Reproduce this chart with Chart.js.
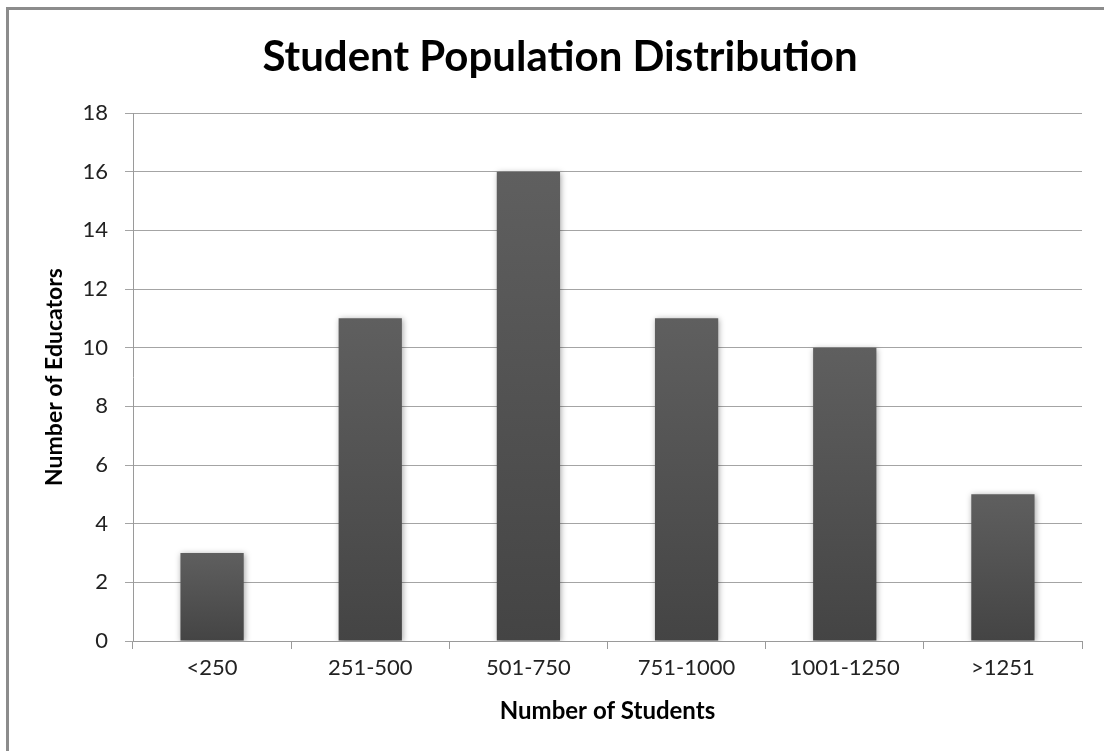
<!DOCTYPE html>
<html>
<head>
<meta charset="utf-8">
<script src="https://cdn.jsdelivr.net/npm/chart.js@4.4.1/dist/chart.umd.min.js"></script>
<style>
  html, body { margin: 0; padding: 0; background: #ffffff; }
  #wrap { width: 1104px; height: 751px; position: relative; }
</style>
</head>
<body>
<div id="wrap"><canvas id="c" width="1104" height="751"></canvas></div>
<script>
// Student counts grouped into school-size ranges
const categories = ['<250', '251-500', '501-750', '751-1000', '1001-1250', '>1251'];
const educatorCounts = [3, 11, 16, 11, 10, 5];
const yTicks = [0, 2, 4, 6, 8, 10, 12, 14, 16, 18];
const chartTitle = 'Student Population Distribution';

const FONT = 'Lato, "Open Sans", sans-serif';

// Each bar gets its own vertical gradient, lighter at the top
function barGradient(ctx) {
  const chart = ctx.chart;
  const area = chart.chartArea;
  if (!area || ctx.type !== 'data') return '#555555';
  const y = chart.scales.y;
  const top = y.getPixelForValue(ctx.raw);
  const bottom = y.getPixelForValue(0);
  const g = chart.ctx.createLinearGradient(0, top, 0, bottom);
  g.addColorStop(0, '#5f5f5f');
  g.addColorStop(1, '#444444');
  return g;
}

// Outer frame (top and left edges; the other sides run off the canvas)
const framePlugin = {
  id: 'frame',
  beforeDraw(chart) {
    const c = chart.ctx;
    c.save();
    c.strokeStyle = '#8c8c8c';
    c.lineWidth = 3;
    c.beginPath();
    c.moveTo(7.5, chart.height + 5);
    c.lineTo(7.5, 8.5);
    c.lineTo(chart.width + 5, 8.5);
    c.stroke();
    c.restore();
  }
};

// Title centred on the full frame, which is wider than the canvas
const titlePlugin = {
  id: 'frameTitle',
  afterDraw(chart) {
    const c = chart.ctx;
    c.save();
    c.fillStyle = '#000000';
    c.font = 'bold 42px ' + FONT;
    c.textAlign = 'center';
    c.textBaseline = 'alphabetic';
    c.fillText(chartTitle, 560, 71);
    c.restore();
  }
};

// Soft drop shadow under the bars
const shadowPlugin = {
  id: 'barShadow',
  beforeDatasetsDraw(chart) {
    const c = chart.ctx;
    c.save();
    c.shadowColor = 'rgba(0,0,0,0.35)';
    c.shadowBlur = 6;
    c.shadowOffsetX = 1;
    c.shadowOffsetY = 1;
  },
  afterDatasetsDraw(chart) {
    chart.ctx.restore();
  }
};

new Chart(document.getElementById('c'), {
  type: 'bar',
  data: {
    labels: categories,
    datasets: [{
      data: educatorCounts,
      backgroundColor: barGradient,
      borderWidth: 0,
      barPercentage: 0.4,
      categoryPercentage: 1.0
    }]
  },
  options: {
    responsive: false,
    animation: false,
    devicePixelRatio: 1,
    layout: { padding: { left: 0, right: 22, top: 113, bottom: 0 } },
    plugins: {
      legend: { display: false },
      tooltip: { enabled: false },
      title: { display: false }
    },
    scales: {
      x: {
        afterFit(scale) { scale.height = 110; },
        grid: {
          offset: true,
          drawOnChartArea: false,
          drawTicks: true,
          tickLength: 8,
          color: '#9a9a9a'
        },
        border: { display: true, color: '#9a9a9a', width: 1 },
        ticks: {
          color: '#222222',
          font: { family: FONT, size: 22 },
          padding: 6,
          maxRotation: 0
        },
        title: {
          display: true,
          text: 'Number of Students',
          color: '#000000',
          font: { family: FONT, size: 24, weight: 'bold' },
          padding: { top: 0, bottom: 25 }
        }
      },
      y: {
        min: 0,
        max: 18,
        afterFit(scale) { scale.width = 133; },
        afterBuildTicks(scale) {
          scale.ticks = yTicks.map(v => ({ value: v }));
        },
        grid: {
          color: '#a4a4a4',
          tickLength: 8,
          lineWidth: 1
        },
        border: { display: true, color: '#9a9a9a', width: 1 },
        ticks: {
          color: '#222222',
          font: { family: FONT, size: 22 },
          padding: 17
        },
        title: {
          display: true,
          text: 'Number of Educators',
          color: '#000000',
          font: { family: FONT, size: 23, weight: 'bold' },
          padding: { top: 41, bottom: 0 }
        }
      }
    }
  },
  plugins: [framePlugin, shadowPlugin, titlePlugin]
});
</script>
</body>
</html>
